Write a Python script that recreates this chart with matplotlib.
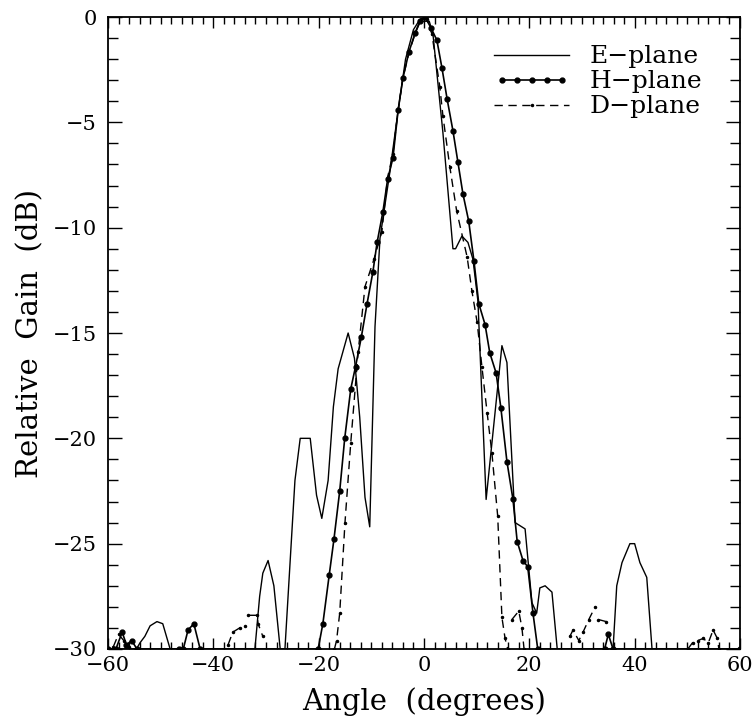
import numpy as np
import matplotlib
matplotlib.use('Agg')
from matplotlib import pyplot as plt
from matplotlib.ticker import MultipleLocator
from matplotlib.legend_handler import HandlerLine2D

nan = np.nan

#   E-plane pattern (solid line)
e_ang = [-60, -54.6, -53.9, -53.0, -52.0, -50.7, -49.6, -48.2, -32.1, -31.2, -30.6, -29.6,
         -28.5, -27.3, -26.4, -24.5, -23.5, -21.6, -20.4, -19.4, -18.2, -17.2, -16.3, -14.4,
         -13.2, -12.2, -11.2, -10.3, -9.3, -8.35, -6.5, -5.0, -3.5, -2.0, -1.0, 0.0, 1.0,
         1.7, 3.6, 5.5, 6.0, 7.2, 8.35, 9.3, 10.25, 11.8, 14.8, 15.75, 17.3, 19.2, 20.5,
         21.4, 22.0, 23.0, 24.3, 25.3, 35.9, 36.6, 37.6, 39.1, 40.0, 41.0, 42.3, 43.3, 60]
e_gain = [-30, -30, -29.7, -29.4, -28.9, -28.7, -28.8, -30, -30, -27.5, -26.4, -25.8,
          -27.0, -30, -30, -22.0, -20.0, -20.0, -22.7, -23.8, -22.0, -18.5, -16.7, -15.0,
          -16.2, -19.0, -22.8, -24.2, -14.7, -10.5, -7.4, -4.6, -2.0, -0.6, -0.2, -0.2, -0.2,
          -0.8, -5.5, -11.0, -11.0, -10.4, -10.7, -11.5, -13.5, -22.9, -15.6, -16.4, -24.0,
          -24.3, -27.8, -28.3, -27.1, -27.0, -27.3, -30, -30, -27.0, -25.9, -25.0, -25.0,
          -25.9, -26.6, -30, -30]

#   H-plane pattern (solid line with dots)
h_ang = [-60, -58.5, -57.3, -56.5, -55.5, -54.5, -46.5, -45.7, -44.8, -43.7, -42.5,
         -20.1, -19.2, -18.0, -17.1, -16.0, -15.05, -13.9, -13.0, -11.9, -10.8, -9.7, -8.9,
         -7.8, -6.9, -5.9, -4.9, -4.0, -2.85, -1.7, -0.8, 0.2, 1.3, 2.45, 3.4, 4.4, 5.5,
         6.45, 7.4, 8.5, 9.5, 10.4, 11.6, 12.5, 13.7, 14.6, 15.75, 16.9, 17.7, 18.8, 19.7,
         20.7, 21.6, 34.3, 35.0, 35.9, 60]
h_gain = [-30, -30, -29.2, -29.8, -29.6, -30, -30, -30, -29.1, -28.8, -30,
          -30, -28.8, -26.5, -24.8, -22.5, -20.0, -17.65, -16.6, -15.2, -13.6, -12.1, -10.7,
          -9.25, -7.7, -6.7, -4.4, -2.9, -1.65, -0.77, -0.2, 0.0, -0.5, -1.1, -2.4, -3.9, -5.4,
          -6.9, -8.4, -9.7, -11.6, -13.6, -14.6, -15.95, -16.9, -18.55, -21.1, -22.9, -24.9,
          -25.8, -26.1, -28.3, -30, -30, -29.3, -30, -30]

#   D-plane pattern (dashed line), nan = gap in the trace
d_ang = [-59.0, -58.0, -57.0, -56.0, nan, -37.2, -36.3, -35.0, -34.0, nan, -33.4, -31.7, -31.5,
         -30.6, nan, -17.0, -16.6, -16.0, -15.0, -13.9, -12.5, -11.2, -9.5, -8.0, -6.9, -5.9,
         -4.9, -4.0, -2.85, -1.7, -0.5, 0.5, 1.5, 3.0, 3.6, 4.9, 6.2, 8.2, 9.1, 10.1, 11.0,
         12.0, 12.9, 14.0, 14.8, 15.4, 15.9, nan, 16.7, 18.0, 18.6, 19.0, nan, 27.7, 28.3,
         29.4, 30.2, 31.3, 32.5, nan, 33.1, 34.6, nan, 50.1, 51.0, 52.0, 53.0, 54.0, 54.9,
         55.7, 56.0]
d_gain = [-29.9, -29.3, -29.6, -29.9, nan, -29.8, -29.2, -29.0, -28.9, nan, -28.4, -28.4, -28.8,
          -29.4, nan, -30, -29.6, -28.3, -24.0, -20.2, -15.9, -12.8, -11.5, -10.2, -7.6, -6.5,
          -4.4, -2.9, -1.7, -0.8, -0.1, -0.1, -0.8, -3.3, -4.7, -7.1, -9.2, -11.4, -13.0,
          -14.5, -16.6, -18.8, -20.7, -23.7, -28.5, -29.5, -30, nan, -28.6, -28.2, -29.0,
          -30, nan, -29.4, -29.1, -29.6, -29.2, -28.6, -28.0, nan, -28.6, -28.7, nan, -30,
          -29.7, -29.6, -29.5, -29.7, -29.1, -29.5, -30]

plt.rcParams['font.family'] = 'DejaVu Serif'

fig = plt.figure(figsize=(7.53, 7.24), dpi=100)
ax = fig.add_axes([0.1434, 0.1036, 0.8393, 0.8729])

ax.plot(e_ang, e_gain, color='black', lw=1.0, label='E\u2212plane')
ax.plot(h_ang, h_gain, color='black', lw=1.2, marker='o', ms=3.5, label='H\u2212plane')
ax.plot(d_ang, d_gain, color='black', lw=1.0, ls=(0, (6, 4)), marker='.', ms=3,
        label='D\u2212plane')

ax.set_xlim(-60, 60)
ax.set_ylim(-30, 0)
ax.xaxis.set_major_locator(MultipleLocator(20))
ax.xaxis.set_minor_locator(MultipleLocator(2))
ax.yaxis.set_major_locator(MultipleLocator(5))
ax.yaxis.set_minor_locator(MultipleLocator(1))
ax.tick_params(axis='x', which='major', direction='in', top=True, length=8, width=1,
               labelsize=15, pad=5)
ax.tick_params(axis='x', which='minor', direction='in', top=True, length=5, width=1)
ax.tick_params(axis='y', which='major', direction='in', right=True, length=10, width=1,
               labelsize=15, pad=8)
ax.tick_params(axis='y', which='minor', direction='in', right=True, length=7, width=1)
for s in ax.spines.values():
    s.set_linewidth(1.3)

ax.set_xlabel('Angle  (degrees)', fontsize=21, labelpad=9)
ax.set_ylabel('Relative  Gain  (dB)', fontsize=21, labelpad=6)

leg = ax.legend(loc='upper right', bbox_to_anchor=(0.94, 0.955), frameon=False, fontsize=18,
                borderpad=0, borderaxespad=0,
                handlelength=3.0, handletextpad=0.8, labelspacing=0.08,
                handler_map={ax.lines[1]: HandlerLine2D(numpoints=5),
                             ax.lines[2]: HandlerLine2D(numpoints=1)})

fig.savefig('out.png', dpi=100)
